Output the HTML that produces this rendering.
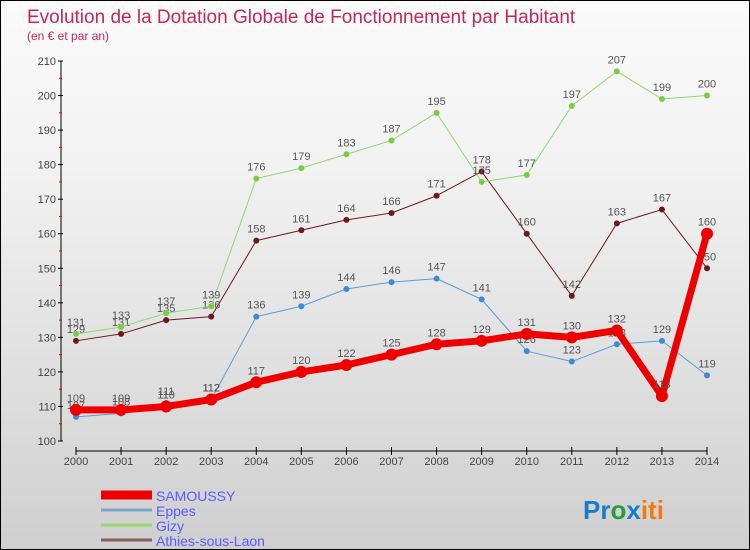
<!DOCTYPE html>
<html><head><meta charset="utf-8"><style>
body{margin:0}
#c{width:748px;height:548px;border:1px solid #000;background:linear-gradient(#fafafa,#f2f2f2 30%,#cfcfcf);position:relative;font-family:"Liberation Sans",sans-serif}
</style></head><body>
<div id="c">
<svg id="s" width="748" height="548" style="position:absolute;left:0;top:0" font-family="Liberation Sans, sans-serif">
<text x="26" y="22" font-size="19" fill="#c0285c">Evolution de la Dotation Globale de Fonctionnement par Habitant</text>
<text x="26" y="39" font-size="12" fill="#c0285c">(en € et par an)</text>
<g id="axes"></g><g id="series"></g><g id="legend"></g>
<text x="582" y="518" font-size="26" font-weight="bold"><tspan fill="#1a7bc8">Pr</tspan><tspan fill="#2a9a3a">o</tspan><tspan fill="#1a7bc8">x</tspan><tspan fill="#f07a10">iti</tspan></text>
</svg>
</div>
<script>
const years=[2000,2001,2002,2003,2004,2005,2006,2007,2008,2009,2010,2011,2012,2013,2014];
const yTicks=[100,110,120,130,140,150,160,170,180,190,200,210];
const samoussy=[109,109,110,112,117,120,122,125,128,129,131,130,132,113,160];
const eppes=[107,108,111,112,136,139,144,146,147,141,126,123,128,129,119];
const gizy=[131,133,137,139,176,179,183,187,195,175,177,197,207,199,200];
const athies=[129,131,135,136,158,161,164,166,171,178,160,142,163,167,150];
const names=["SAMOUSSY","Eppes","Gizy","Athies-sous-Laon"];
const NS="http://www.w3.org/2000/svg";
const X=i=>75+i*(706-75)/(years.length-1);
const Y=v=>440-(v-100)*(380/110);
function mk(p,t,a){const e=document.createElementNS(NS,t);for(const k in a)e.setAttribute(k,a[k]);p.appendChild(e);return e;}
const ax=document.getElementById('axes');
const yl=mk(ax,'line',{x1:60,y1:Y(210),x2:60,y2:Y(100),stroke:'#000'});


const xl=mk(ax,'line',{x1:75,y1:450,x2:706,y2:450,stroke:'#000'});


yTicks.forEach(v=>{
 mk(ax,'line',{x1:57,y1:Y(v),x2:62,y2:Y(v),stroke:'#000'});
 if(v<210)mk(ax,'line',{x1:58,y1:Y(v+5),x2:61,y2:Y(v+5),stroke:'#e00'});
 const t=mk(ax,'text',{x:55,y:Y(v)+4,'font-size':11,fill:'#444','text-anchor':'end'});t.textContent=v;
 
 
});
years.forEach((y,i)=>{
 mk(ax,'line',{x1:X(i),y1:446,x2:X(i),y2:454,stroke:'#000'});
 const t=mk(ax,'text',{x:X(i),y:464,'font-size':11,fill:'#444','text-anchor':'middle'});t.textContent=y;
 
 
});
const sg=document.getElementById('series');
function series(data,color,dot,w,r,name,lab){
 const g=mk(sg,'g',{});
 
 
 mk(g,'polyline',{points:data.map((v,i)=>X(i)+','+Y(v)).join(' '),fill:'none',stroke:color,'stroke-width':w,'stroke-linejoin':'round'});
 data.forEach((v,i)=>{
  const c=mk(g,'circle',{cx:X(i),cy:Y(v),r:r,fill:dot});
  
  
  const t=mk(g,'text',{x:X(i),y:Y(v)-8,'font-size':11,fill:'#555','text-anchor':'middle'});t.textContent=v;
  
  
 });
}
series(athies,'#6b1a1a','#6b1a1a',1,3,'series-athies');
series(gizy,'#8fd870','#7acc44',1,3,'series-gizy');
series(eppes,'#5a9ed8','#3d8ad0',1,3,'series-eppes');
series(samoussy,'#ee0000','#ee0000',7,6,'series-samoussy');
const lg=document.getElementById('legend');
const cols=['#e00','#7aa6c8','#96d870','#8a5a5a'],ws=[9,3,3,3];
names.forEach((n,i)=>{
 const y=498+i*15;
 const l=mk(lg,'line',{x1:100,y1:y-4,x2:151,y2:y-4,stroke:cols[i],'stroke-width':ws[i]});
 
 
 const t=mk(lg,'text',{x:155,y:y+2,'font-size':14,fill:'#5a5aff'});t.textContent=n;
 
 
});
</script>
</body></html>
